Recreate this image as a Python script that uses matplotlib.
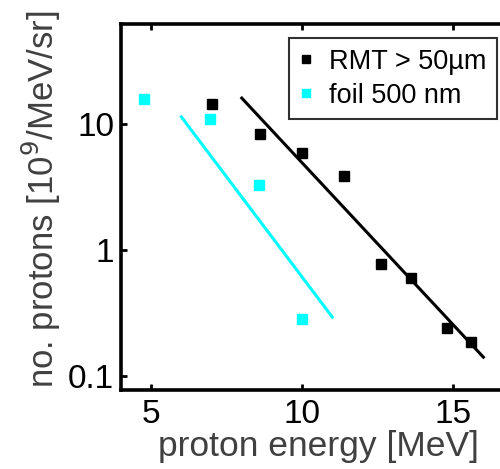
import numpy as np
import matplotlib
matplotlib.use('Agg')
import matplotlib.pyplot as plt

plt.rcParams['font.family'] = ['Liberation Sans', 'DejaVu Sans']

# RMT > 50um data
rmt_e = [7.0, 8.6, 10.0, 11.4, 12.6, 13.6, 14.8, 15.6]
rmt_n = [14.4, 8.3, 5.9, 3.9, 0.78, 0.6, 0.24, 0.186]
# foil 500 nm data
foil_e = [4.77, 6.95, 8.58, 10.0]
foil_n = [15.8, 11.0, 3.28, 0.283]
# fit lines (end points)
rmt_fit_e = [8.0, 16.0]
rmt_fit_n = [16.1, 0.141]
foil_fit_e = [6.0, 11.0]
foil_fit_n = [11.4, 0.293]

cyan = '#00ffff'
label_col = '#404040'

fig = plt.figure(figsize=(5, 4.69), dpi=100)
ax = fig.add_axes([0.242, 0.168, 0.77, 0.780])

ax.plot(rmt_fit_e, rmt_fit_n, color='black', lw=2.2)
ax.plot(foil_fit_e, foil_fit_n, color=cyan, lw=2.2)
ax.plot(rmt_e, rmt_n, 's', color='black', ms=6.5, label='RMT > 50µm')
ax.plot(foil_e, foil_n, 's', color=cyan, ms=6.5, label='foil 500 nm')

ax.set_yscale('log')
ax.set_xlim(4, 16.75)
ax.set_ylim(0.077, 62)
ax.set_xticks([5, 10, 15])
ax.set_xticklabels(['5', '10', '15'])
ax.set_yticks([0.1, 1, 10])
ax.set_yticklabels(['0.1', '1', '10'])
ax.minorticks_off()
ax.tick_params(direction='in', length=4, width=2, labelsize=24, top=True)
ax.tick_params(axis='x', pad=6)
ax.tick_params(axis='y', pad=5)
for s in ax.spines.values():
    s.set_linewidth(2.6)

ax.set_xlabel('proton energy [MeV]', fontsize=25.5, color=label_col)
ax.set_ylabel('no. protons [10$^9$/MeV/sr]', fontsize=25, color=label_col)
ax.xaxis.set_label_coords(0.514, -0.108)
ax.yaxis.set_label_coords(-0.15, 0.522)

leg = ax.legend(loc='upper left', bbox_to_anchor=(0.436, 0.962), fontsize=19.5,
                fancybox=False, framealpha=1, edgecolor='#303030',
                handlelength=0.5, handletextpad=0.6, borderpad=0.38,
                labelspacing=0.3, markerscale=0.85, borderaxespad=0)
leg.get_frame().set_linewidth(1.5)

fig.savefig('out.png', dpi=100)
